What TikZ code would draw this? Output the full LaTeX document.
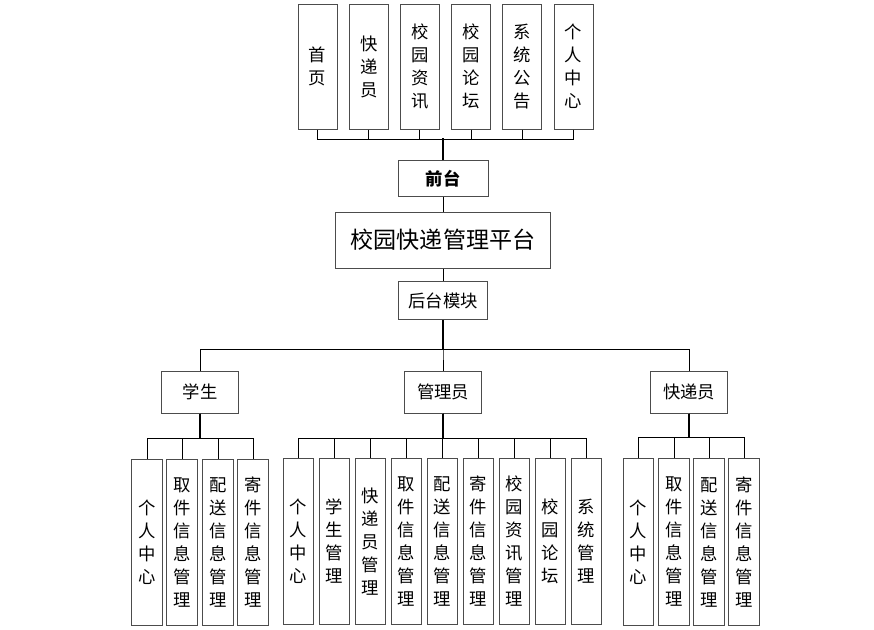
\documentclass[tikz,border=0pt]{standalone}
\usepackage{fontspec}
\newfontfamily\cjk{Noto Sans CJK SC}
\begin{document}
\begin{tikzpicture}[x=0.75pt,y=-0.75pt,
  box/.style={draw=black!70,line width=0.75pt,inner sep=0pt,align=center,font=\cjk\fontsize{13}{17.25}\selectfont},
  topbox/.style={box,minimum width=29.25pt,minimum height=93.75pt},
  subbox/.style={box,minimum width=23pt,minimum height=125pt},
  rolebox/.style={box,minimum width=57.75pt,minimum height=31.5pt},
  link/.style={line width=0.7pt},
  stem/.style={line width=1.1pt}]
  \useasboundingbox (0,0) rectangle (874,629);

  \node (shouye) at (317.5,66.5) [topbox]{首\\页};
  \node (kuaidi) at (368.7,66.5) [topbox]{快\\递\\员};
  \node (zixun) at (419.9,66.5) [topbox]{校\\园\\资\\讯};
  \node (luntan) at (471.1,66.5) [topbox]{校\\园\\论\\坛};
  \node (gonggao) at (522.3,66.5) [topbox]{系\\统\\公\\告};
  \node (geren) at (573.5,66.5) [topbox]{个\\人\\中\\心};

  \node (qiantai) at (443,178.5) [box,minimum width=67.5pt,minimum height=27pt,font=\cjk\bfseries\fontsize{13}{15}\selectfont]{前台};
  \node (pingtai) at (443,240) [box,minimum width=161pt,minimum height=42pt,font=\cjk\fontsize{17.3}{20}\selectfont]{校园快递管理平台};
  \node (houtai) at (443,300.5) [box,minimum width=67pt,minimum height=29pt]{后台模块};

  \node (xuesheng) at (200,392) [rolebox]{学生};
  \node (guanli) at (443,392) [rolebox]{管理员};
  \node (kuaidiyuan) at (689,392) [rolebox]{快递员};

  \node (xs1) at (147,542.5) [subbox]{个\\人\\中\\心};
  \node (xs2) at (182,542.5) [subbox]{取\\件\\信\\息\\管\\理};
  \node (xs3) at (218,542.5) [subbox]{配\\送\\信\\息\\管\\理};
  \node (xs4) at (253,542.5) [subbox]{寄\\件\\信\\息\\管\\理};

  \node (gl1) at (298.5,541.5) [subbox]{个\\人\\中\\心};
  \node (gl2) at (334.5,541.5) [subbox]{学\\生\\管\\理};
  \node (gl3) at (370.5,541.5) [subbox]{快\\递\\员\\管\\理};
  \node (gl4) at (406.5,541.5) [subbox]{取\\件\\信\\息\\管\\理};
  \node (gl5) at (442.5,541.5) [subbox]{配\\送\\信\\息\\管\\理};
  \node (gl6) at (478.5,541.5) [subbox]{寄\\件\\信\\息\\管\\理};
  \node (gl7) at (514.5,541.5) [subbox]{校\\园\\资\\讯\\管\\理};
  \node (gl8) at (550.5,541.5) [subbox]{校\\园\\论\\坛};
  \node (gl9) at (586.5,541.5) [subbox]{系\\统\\管\\理};

  \node (kd1) at (638.5,542) [subbox]{个\\人\\中\\心};
  \node (kd2) at (674,542) [subbox]{取\\件\\信\\息\\管\\理};
  \node (kd3) at (709,542) [subbox]{配\\送\\信\\息\\管\\理};
  \node (kd4) at (744,542) [subbox]{寄\\件\\信\\息\\管\\理};


  \draw[link] (shouye.south) -- ++(0,10) -| (qiantai.north);
  \draw[link] (kuaidi.south) -- ++(0,10) -| (qiantai.north);
  \draw[link] (zixun.south) -- ++(0,10) -| (qiantai.north);
  \draw[link] (luntan.south) -- ++(0,10) -| (qiantai.north);
  \draw[link] (gonggao.south) -- ++(0,10) -| (qiantai.north);
  \draw[link] (geren.south) -- ++(0,10) -| (qiantai.north);
  \draw[stem] (qiantai.north) -- ++(0,-22);

  \draw[link] (qiantai) -- (pingtai);
  \draw[link] (pingtai) -- (houtai);

  \draw[link] (houtai.south) -- ++(0,29) -| (xuesheng.north);
  \draw[link] (houtai.south) -- ++(0,29) -| (guanli.north);
  \draw[link] (houtai.south) -- ++(0,29) -| (kuaidiyuan.north);
  \draw[stem] (houtai.south) -- ++(0,29);

  \draw[link] (xuesheng.south) -- ++(0,25) -| (xs1.north);
  \draw[link] (xuesheng.south) -- ++(0,25) -| (xs2.north);
  \draw[link] (xuesheng.south) -- ++(0,25) -| (xs3.north);
  \draw[link] (xuesheng.south) -- ++(0,25) -| (xs4.north);
  \draw[stem] (xuesheng.south) -- ++(0,25);

  \draw[link] (guanli.south) -- ++(0,25) -| (gl1.north);
  \draw[link] (guanli.south) -- ++(0,25) -| (gl2.north);
  \draw[link] (guanli.south) -- ++(0,25) -| (gl3.north);
  \draw[link] (guanli.south) -- ++(0,25) -| (gl4.north);
  \draw[link] (guanli.south) -- ++(0,25) -| (gl5.north);
  \draw[link] (guanli.south) -- ++(0,25) -| (gl6.north);
  \draw[link] (guanli.south) -- ++(0,25) -| (gl7.north);
  \draw[link] (guanli.south) -- ++(0,25) -| (gl8.north);
  \draw[link] (guanli.south) -- ++(0,25) -| (gl9.north);
  \draw[stem] (guanli.south) -- ++(0,25);

  \draw[link] (kuaidiyuan.south) -- ++(0,24) -| (kd1.north);
  \draw[link] (kuaidiyuan.south) -- ++(0,24) -| (kd2.north);
  \draw[link] (kuaidiyuan.south) -- ++(0,24) -| (kd3.north);
  \draw[link] (kuaidiyuan.south) -- ++(0,24) -| (kd4.north);
  \draw[stem] (kuaidiyuan.south) -- ++(0,24);

\end{tikzpicture}
\end{document}
